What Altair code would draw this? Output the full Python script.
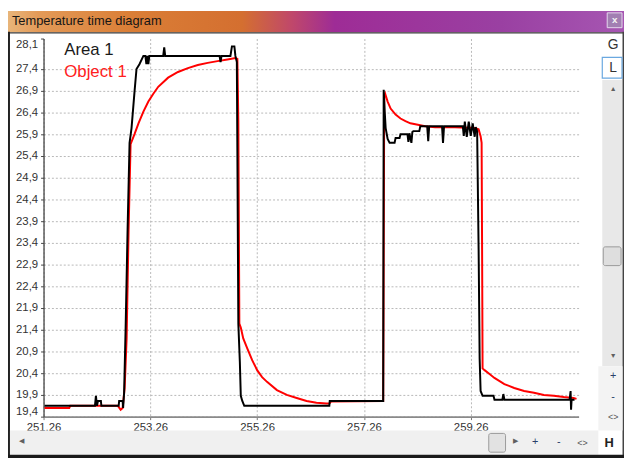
import altair as alt
import pandas as pd

# ---------------- data ----------------
area_t = [251.279, 252.223, 252.241, 252.260, 252.279, 252.334, 252.343, 252.667, 252.676, 252.741,
          252.750, 252.769, 252.797, 252.834, 252.871, 252.908, 252.964, 253.001, 253.056, 253.130,
          253.167, 253.186, 253.204, 253.223, 253.241, 253.501, 253.520, 253.538, 254.556, 254.575,
          254.593, 254.760, 254.788, 254.834, 254.853, 254.880, 254.890, 254.908, 254.936, 254.954,
          254.982, 255.019, 256.612, 256.620, 257.621, 257.630, 257.649, 257.667, 257.704, 257.741,
          257.834, 257.853, 257.927, 257.945, 258.075, 258.093, 258.112, 258.149, 258.167, 258.186,
          258.297, 258.316, 258.445, 258.464, 258.482, 258.723, 258.741, 258.760, 259.112, 259.130,
          259.149, 259.186, 259.223, 259.260, 259.297, 259.334, 259.353, 259.380, 259.408, 259.427,
          259.445, 259.482, 259.686, 259.705, 259.853, 259.871, 259.890, 261.112, 261.130, 261.139,
          261.149, 261.204]
area_temp = [19.65, 19.65, 19.88, 19.65, 19.76, 19.76, 19.65, 19.65, 19.76, 19.76,
             19.60, 19.95, 21.42, 23.70, 25.70, 26.04, 26.88, 27.40, 27.51, 27.70,
             27.70, 27.51, 27.70, 27.51, 27.70, 27.70, 27.90, 27.70, 27.70, 27.56,
             27.70, 27.70, 27.92, 27.92, 27.70, 27.56, 25.51, 21.54, 20.67, 19.88,
             19.76, 19.65, 19.65, 19.76, 19.76, 26.92, 26.42, 26.04, 25.79, 25.70,
             25.70, 25.81, 25.81, 25.90, 25.90, 25.72, 25.92, 25.70, 25.95, 25.97,
             25.97, 26.08, 26.08, 25.74, 26.08, 26.08, 25.70, 26.08, 26.08, 25.86,
             26.19, 25.84, 26.19, 25.86, 26.15, 25.84, 26.06, 25.97, 23.24, 20.74,
             19.99, 19.88, 19.88, 19.79, 19.79, 19.92, 19.79, 19.79, 19.99, 19.56,
             19.79, 19.79]

obj_t = [251.279, 251.741, 251.760, 252.649, 252.704, 252.741, 252.779, 252.816, 252.853, 252.890,
         252.964, 253.038, 253.130, 253.223, 253.316, 253.408, 253.593, 253.778, 253.964, 254.149,
         254.334, 254.519, 254.704, 254.853, 254.890, 254.908, 254.927, 254.954, 255.000, 255.075,
         255.167, 255.260, 255.353, 255.445, 255.630, 255.816, 256.001, 256.186, 256.371, 256.556,
         256.612, 256.649, 257.621, 257.640, 257.658, 257.704, 257.760, 257.853, 257.945, 258.038,
         258.130, 258.223, 258.408, 258.593, 258.963, 259.334, 259.408, 259.445, 259.464, 259.473,
         259.482, 259.519, 259.612, 259.704, 259.890, 260.075, 260.260, 260.445, 260.630, 260.816,
         261.001, 261.186, 261.241]
obj_temp = [19.60, 19.60, 19.65, 19.65, 19.56, 19.60, 20.06, 21.20, 23.70, 25.67,
            25.90, 26.15, 26.42, 26.65, 26.83, 26.99, 27.20, 27.33, 27.42, 27.49,
            27.54, 27.58, 27.62, 27.65, 27.63, 26.20, 21.54, 21.45, 21.20, 20.97,
            20.70, 20.47, 20.31, 20.20, 20.01, 19.90, 19.83, 19.76, 19.72, 19.70,
            19.70, 19.75, 19.76, 26.76, 26.83, 26.65, 26.49, 26.35, 26.26, 26.20,
            26.15, 26.13, 26.08, 26.06, 26.06, 26.04, 26.01, 25.85, 25.70, 23.24,
            20.51, 20.47, 20.38, 20.29, 20.15, 20.06, 19.99, 19.95, 19.90, 19.88,
            19.85, 19.83, 19.81]

x_ticks = [251.26, 253.26, 255.26, 257.26, 259.26]
y_ticks = [19.4, 19.9, 20.4, 20.9, 21.4, 21.9, 22.4, 22.9, 23.4, 23.9, 24.4, 24.9,
           25.4, 25.9, 26.4, 26.9, 27.4, 28.1]
series_names = ["Area 1", "Object 1"]
series_colors = ["#000000", "#ff0000"]
window_title = "Temperature time diagram"

df_area = pd.DataFrame({"t": area_t, "temp": area_temp, "i": list(range(len(area_t)))})
df_obj = pd.DataFrame({"t": obj_t, "temp": obj_temp, "i": list(range(len(obj_t)))})
dummy = pd.DataFrame({"a": [0]})

# plot origin on page: (44, 36)
OX, OY = 44, 36
FONT = "Liberation Sans"

x_enc = alt.X("t:Q",
              scale=alt.Scale(domain=[251.26, 261.28], nice=False, zero=False),
              axis=alt.Axis(values=x_ticks, title=None,
                            labelExpr="replace(format(datum.value, '.2f'), '.', ',')",
                            labelFlush=False, labelOverlap=False,
                            labelFont=FONT, labelFontSize=11.5, labelColor="#333333",
                            labelPadding=2, tickSize=3, tickColor="#777777",
                            domainColor="#8a8a8a", domainWidth=2,
                            grid=True, gridColor="#b8b8b8", gridDash=[2, 2]))
y_enc = alt.Y("temp:Q",
              scale=alt.Scale(domain=[19.4, 28.1], nice=False, zero=False),
              axis=alt.Axis(values=y_ticks, title=None,
                            labelExpr="replace(format(datum.value, '.1f'), '.', ',')",
                            labelFlush=True, labelOverlap=False,
                            labelFont=FONT, labelFontSize=11.5, labelColor="#333333",
                            labelPadding=3, tickSize=3, tickColor="#444444",
                            domainColor="#444444", domainWidth=1.3,
                            grid=True, gridColor="#b8b8b8", gridDash=[2, 2],
                            gridOpacity={"condition": {"test": "datum.value > 28", "value": 0}, "value": 1}))

red_line = alt.Chart(df_obj).mark_line(color=series_colors[1], strokeWidth=2).encode(
    x=x_enc, y=y_enc, order="i:Q")
black_line = alt.Chart(df_area).mark_line(color=series_colors[0], strokeWidth=2).encode(
    x=x_enc, y=y_enc, order="i:Q")


def prect(x0, y0, x1, y1, **kw):
    return alt.Chart(dummy).mark_rect(**kw).encode(
        x=alt.value(x0 - OX), x2=alt.value(x1 - OX),
        y=alt.value(y0 - OY), y2=alt.value(y1 - OY))


def ptext(x, y, s, **kw):
    opts = dict(font=FONT, fontSize=11, color="#333333", align="center", baseline="middle")
    opts.update(kw)
    return alt.Chart(dummy).mark_text(text=s, **opts).encode(
        x=alt.value(x - OX), y=alt.value(y - OY))


title_grad = alt.LinearGradient(
    gradient="linear", x1=0, x2=1, y1=0, y2=0,
    stops=[alt.GradientStop(color="#e8b57a", offset=0),
           alt.GradientStop(color="#e39a58", offset=0.05),
           alt.GradientStop(color="#da7e36", offset=0.2),
           alt.GradientStop(color="#d46f30", offset=0.38),
           alt.GradientStop(color="#c0486a", offset=0.46),
           alt.GradientStop(color="#9e2c96", offset=0.53),
           alt.GradientStop(color="#9a40a2", offset=0.8),
           alt.GradientStop(color="#a656b2", offset=1)])

chrome = [
    prect(8, 8, 632, 29.5, color=title_grad),
    prect(8, 29.5, 632, 31, color="#3a3a3a"),
    prect(8, 29, 10, 461, color="#222222"),
    prect(630.5, 29, 632, 461, color="#444444"),
    prect(10, 433, 606, 457.5, color="#f0f0f0"),
    prect(610, 78, 630, 368, color="#e8e8e8"),
    prect(606, 368, 630.5, 433, color="#f3f3f3"),
    prect(611, 247, 629, 266, color="#dedede", stroke="#9a9a9a", strokeWidth=1, cornerRadius=2),
    prect(495, 436, 512, 455, color="#e2e2e2", stroke="#9a9a9a", strokeWidth=1, cornerRadius=2),
    prect(610, 55, 630, 76, color="#ffffff", stroke="#6aa8e0", strokeWidth=1.2),
    prect(8, 457.5, 632, 461, color="#1a1a1a"),
    prect(615, 10, 630, 25, color="#a27fb2", stroke="#e6d8ee", strokeWidth=1),
    ptext(622.5, 17.5, "x", color="#f4f4f4", fontSize=10, fontWeight="bold"),
    ptext(12, 22, window_title, align="left", baseline="alphabetic", fontSize=13, color="#151515"),
    ptext(621, 43, "G", fontSize=14, color="#333333"),
    ptext(621, 66, "L", fontSize=14, color="#333333"),
    ptext(621, 87, "▲", fontSize=7, color="#606060"),
    ptext(621, 358, "▼", fontSize=7, color="#606060"),
    ptext(621, 378, "+", fontSize=11, color="#2a3f6a"),
    ptext(621, 399, "-", fontSize=11, color="#2a3f6a"),
    ptext(621, 419, "<>", fontSize=9, color="#555555"),
    ptext(22, 444, "◀", fontSize=7, color="#606060"),
    ptext(522, 444, "▶", fontSize=7, color="#606060"),
    ptext(542, 445, "+", fontSize=11, color="#2a3f6a"),
    ptext(566, 445, "-", fontSize=11, color="#2a3f6a"),
    ptext(590, 446, "<>", fontSize=9, color="#555555"),
    ptext(617, 446, "H", fontSize=13, color="#222222", fontWeight="bold"),
]

legend = [
    ptext(65, 53, series_names[0], align="left", baseline="alphabetic", fontSize=17, color="#1a1a1a"),
    ptext(65, 75, series_names[1], align="left", baseline="alphabetic", fontSize=17, color="#ff2020"),
]

chart = alt.layer(red_line, black_line, *legend, *chrome).properties(
    width=542, height=383,
    padding={"left": 36, "top": 28, "right": 46, "bottom": 43},
    autosize=alt.AutoSizeParams(type="none"),
    background="#ffffff",
).configure_view(strokeWidth=0)

chart.save("out.html", embed_options={"renderer": "svg", "actions": False})
